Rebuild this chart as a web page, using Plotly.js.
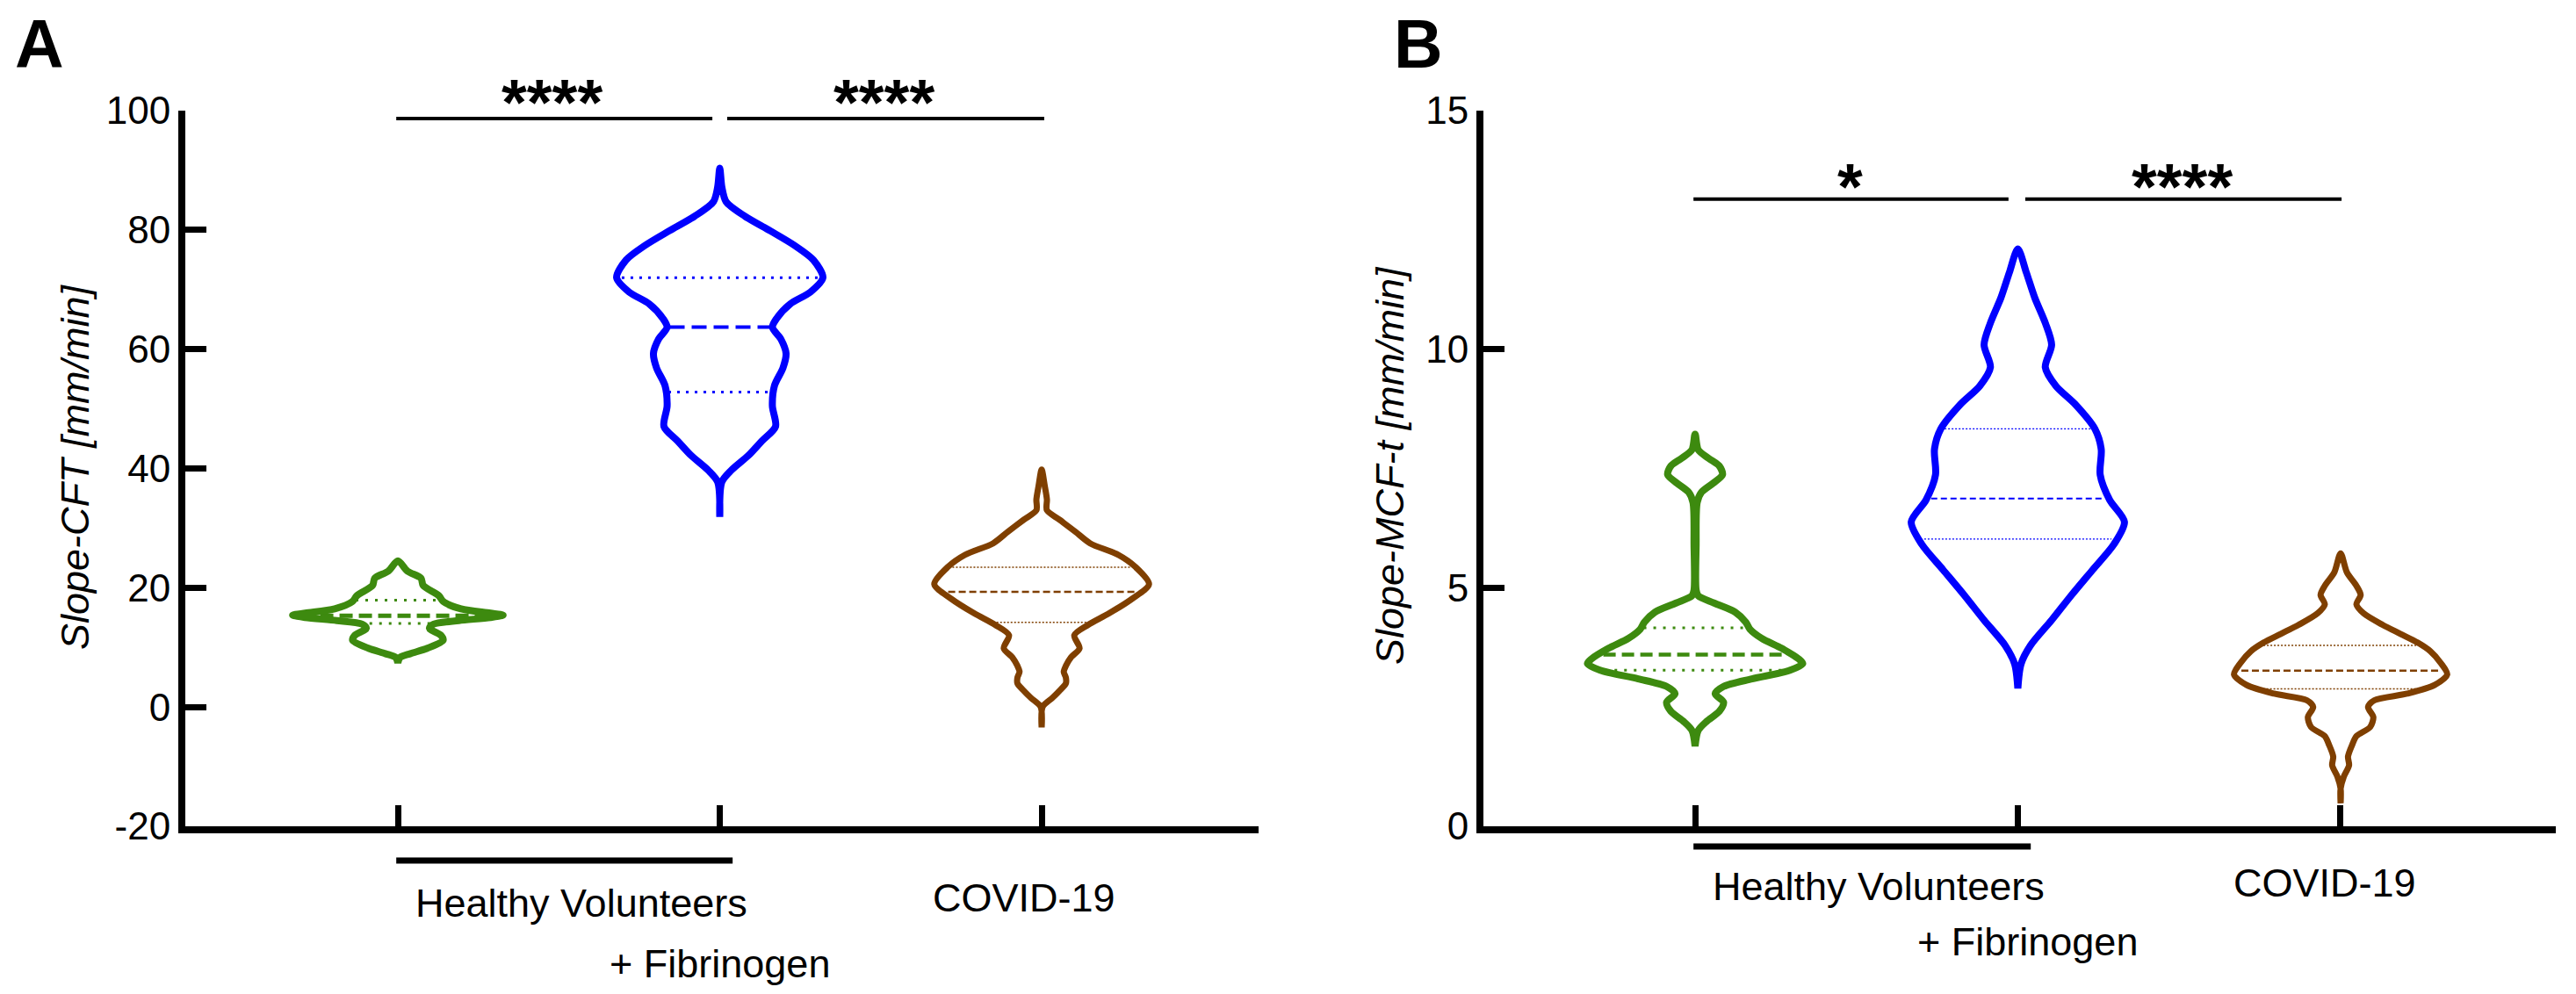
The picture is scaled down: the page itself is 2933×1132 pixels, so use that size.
<!DOCTYPE html>
<html>
<head>
<meta charset="utf-8">
<script src="https://cdn.plot.ly/plotly-3.0.1.min.js"></script>
<style>
html, body { margin: 0; padding: 0; background: #fff; }
#plot { width: 2933px; height: 1132px; }
</style>
</head>
<body>
<div id="plot"></div>
<script>
// x positions of the three groups
var groups = ['Healthy Volunteers', 'Healthy Volunteers + Fibrinogen', 'COVID-19'];
var groupPos = [0, 1, 2];

// Panel A - Slope-CFT [mm/min]
// violin outlines: value levels (top to bottom) and relative density
var cftHealthyY = [24.5, 22.8, 21.6, 20.4, 18.65, 17.7, 16.45, 15.75, 15.4, 15.0, 14.5, 13.9, 13.2, 12.0, 11.2, 9.85, 8.95, 8.3, 7.4];
var cftHealthyD = [0, .09, .22, .24, .39, .43, .60, .88, 1.0, .88, .58, .34, .30, .41, .43, .28, .12, .02, 0];
var cftFibY = [90.36, 87.17, 84.73, 82.28, 79.84, 77.4, 74.95, 72.0, 69.56, 67.6, 65.15, 63.68, 61.72, 59.27, 56.83, 53.89, 50.47, 47.04, 44.6, 42.14, 39.7, 37.74, 31.87];
var cftFibD = [0, .02, .06, .24, .48, .71, .89, .98, .86, .67, .54, .50, .58, .63, .60, .52, .50, .53, .40, .27, .11, .02, 0];
var cftCovidY = [39.8, 37.0, 34.8, 33.0, 31.4, 29.4, 27.46, 25.5, 23.5, 20.6, 18.16, 15.7, 13.76, 12.04, 9.84, 8.37, 6.9, 5.9, 4.95, 3.97, 2.74, 1.5, 0.05, -3.4];
var cftCovidD = [0, .03, .05, .05, .17, .32, .46, .73, .89, 1.02, .86, .64, .44, .31, .36, .28, .23, .21, .23, .23, .17, .10, .01, 0];
// quartiles [Q1, median, Q3]
var cftHealthyQ = [14.0, 15.3, 17.9];
var cftFibQ = [52.8, 63.7, 72.0];
var cftCovidQ = [14.2, 19.3, 23.45];

// Panel B - Slope-MCF-t [mm/min]
var mcfHealthyY = [8.22, 7.89, 7.71, 7.55, 7.37, 7.19, 7.0, 6.79, 5.9, 4.95, 4.83, 4.68, 4.49, 4.28, 4.13, 3.94, 3.73, 3.51, 3.41, 3.27, 3.09, 2.93, 2.78, 2.60, 2.41, 2.2, 2.01, 1.68];
var mcfHealthyD = [0, .03, .13, .23, .26, .17, .06, .02, .01, .01, .03, .18, .38, .48, .52, .63, .82, .98, 1.02, .90, .54, .27, .19, .27, .23, .11, .03, 0];
var mcfFibY = [12.1, 11.61, 11.08, 10.55, 10.09, 9.62, 9.23, 8.83, 8.33, 7.90, 7.37, 6.84, 6.38, 5.91, 5.38, 4.85, 4.32, 3.79, 3.40, 2.89];
var mcfFibD = [0, .08, .16, .26, .32, .26, .36, .55, .73, .79, .78, .87, 1.01, .91, .71, .51, .32, .12, .03, 0];
var mcfCovidY = [5.72, 5.32, 5.04, 4.85, 4.65, 4.46, 4.22, 4.03, 3.85, 3.67, 3.42, 3.18, 2.96, 2.78, 2.64, 2.50, 2.29, 2.08, 1.89, 1.71, 1.46, 1.28, 1.04, 0.79, 0.48];
var mcfCovidD = [0, .06, .15, .19, .15, .22, .40, .57, .73, .85, .95, 1.01, .89, .63, .32, .26, .31, .28, .15, .11, .07, .08, .03, 0, 0];
var mcfHealthyQ = [3.27, 3.6, 4.16];
var mcfFibQ = [6.02, 6.87, 8.33];
var mcfCovidQ = [2.88, 3.26, 3.79];

var yTicksA = [-20, 0, 20, 40, 60, 80, 100];
var yTicksB = [0, 5, 10, 15];
var sigA = ['****', '****'];
var sigB = ['*', '****'];

var GREEN = '#3d8a0f', BLUE = '#0000ff', BROWN = '#7f3f00';
var HALF = 0.327; // violin half width in x units for density 1

var W = 2933, H = 1132;
function px(x) { return x / W; }
function py(y) { return 1 - y / H; }

function outline(pos, ys, ds, color, width, xa, ya) {
    var xs = [], yy = [];
    for (var i = 0; i < ys.length; i++) { xs.push(pos + ds[i] * HALF); yy.push(ys[i]); }
    for (var j = ys.length - 1; j >= 0; j--) { xs.push(pos - ds[j] * HALF); yy.push(ys[j]); }
    return {
        x: xs, y: yy, xaxis: xa, yaxis: ya, mode: 'lines', type: 'scatter',
        line: {color: color, width: width, shape: 'spline', smoothing: 0.8},
        hoverinfo: 'skip', showlegend: false
    };
}

function densityAt(ys, ds, q) {
    for (var i = 0; i < ys.length - 1; i++) {
        if (q <= ys[i] && q >= ys[i + 1]) {
            var t = (ys[i] - q) / (ys[i] - ys[i + 1]);
            return ds[i] + t * (ds[i + 1] - ds[i]);
        }
    }
    return 0;
}

function qline(pos, ys, ds, q, color, width, dash, xa, ya) {
    var h = densityAt(ys, ds, q) * HALF * 0.95;
    return {
        x: [pos - h, pos + h], y: [q, q], xaxis: xa, yaxis: ya, mode: 'lines', type: 'scatter',
        line: {color: color, width: width, dash: dash},
        hoverinfo: 'skip', showlegend: false
    };
}

var data = [];
function violin(pos, ys, ds, qs, color, lw, medW, medDash, qW, qDash, xa, ya) {
    data.push(qline(pos, ys, ds, qs[0], color, qW, qDash, xa, ya));
    data.push(qline(pos, ys, ds, qs[2], color, qW, qDash, xa, ya));
    data.push(qline(pos, ys, ds, qs[1], color, medW, medDash, xa, ya));
    data.push(outline(pos, ys, ds, color, lw, xa, ya));
}

violin(groupPos[0], cftHealthyY, cftHealthyD, cftHealthyQ, GREEN, 8, 5, '15px,7px', 3, '3px,8px', 'x', 'y');
violin(groupPos[1], cftFibY, cftFibD, cftFibQ, BLUE, 8, 4, '17px,8px', 3, '3px,7px', 'x', 'y');
violin(groupPos[2], cftCovidY, cftCovidD, cftCovidQ, BROWN, 7, 2.5, '8px,4px', 1.5, '2px,2px', 'x', 'y');

violin(groupPos[0], mcfHealthyY, mcfHealthyD, mcfHealthyQ, GREEN, 8, 4.5, '14px,7px', 3, '3px,8px', 'x2', 'y2');
violin(groupPos[1], mcfFibY, mcfFibD, mcfFibQ, BLUE, 8, 2, '7px,4px', 1.2, '2px,2px', 'x2', 'y2');
violin(groupPos[2], mcfCovidY, mcfCovidD, mcfCovidQ, BROWN, 7, 2.5, '8px,4px', 1.5, '2px,2px', 'x2', 'y2');

var FONT = 'Arial, "Liberation Sans", Helvetica, sans-serif';

var xBase = {
    showline: true, linewidth: 8, linecolor: '#000', zeroline: false, showgrid: false,
    ticks: 'inside', ticklen: 24, tickwidth: 7, tickcolor: '#000',
    tickmode: 'array', tickvals: groupPos, showticklabels: false, fixedrange: true
};
var yBase = {
    showline: true, linewidth: 8, linecolor: '#000', zeroline: false, showgrid: false,
    ticks: 'inside', ticklen: 24, tickwidth: 7, tickcolor: '#000', tickmode: 'array',
    tickfont: {family: FONT, size: 44, color: '#000'}, fixedrange: true
};

var yDom = [py(941), py(126)];

function label(text, xref, x, y, size) {
    return {text: text, xref: xref, yref: 'paper', x: x, y: py(y), xanchor: 'center', yanchor: 'middle',
            showarrow: false, font: {size: size, color: '#000'}};
}

var title1 = label('<i>Slope-CFT [mm/min]</i>', 'paper', px(85), 532, 45);
title1.textangle = -90;
var title2 = label('<i>Slope-MCF-t [mm/min]</i>', 'paper', px(1582), 530, 45);
title2.textangle = -90;

var layout = {
    width: W, height: H,
    margin: {l: 0, r: 0, t: 0, b: 0},
    paper_bgcolor: '#fff', plot_bgcolor: '#fff',
    showlegend: false,
    font: {family: FONT, color: '#000'},
    xaxis: Object.assign({}, xBase, {domain: [px(211), px(1433)], range: [-0.6603, 2.6739], anchor: 'y'}),
    yaxis: Object.assign({}, yBase, {domain: yDom, range: [-20, 100], tickvals: yTicksA,
        ticktext: yTicksA.map(String), anchor: 'x'}),
    xaxis2: Object.assign({}, xBase, {domain: [px(1689), px(2910)], range: [-0.6558, 2.6667], anchor: 'y2'}),
    yaxis2: Object.assign({}, yBase, {domain: yDom, range: [0, 15], tickvals: yTicksB,
        ticktext: yTicksB.map(String), anchor: 'x2'}),
    shapes: [
        // significance bars
        {type: 'line', xref: 'x', yref: 'y', x0: -0.005, x1: 0.977, y0: 98.68, y1: 98.68, line: {color: '#000', width: 4}},
        {type: 'line', xref: 'x', yref: 'y', x0: 1.023, x1: 2.008, y0: 98.68, y1: 98.68, line: {color: '#000', width: 4}},
        {type: 'line', xref: 'x2', yref: 'y2', x0: -0.005, x1: 0.971, y0: 13.146, y1: 13.146, line: {color: '#000', width: 4}},
        {type: 'line', xref: 'x2', yref: 'y2', x0: 1.023, x1: 2.003, y0: 13.146, y1: 13.146, line: {color: '#000', width: 4}},
        // group bars under the axis
        {type: 'line', xref: 'x', yref: 'paper', x0: -0.005, x1: 1.04, y0: py(980), y1: py(980), line: {color: '#000', width: 7}},
        {type: 'line', xref: 'x2', yref: 'paper', x0: -0.005, x1: 1.04, y0: py(964), y1: py(964), line: {color: '#000', width: 7}}
    ],
    annotations: [
        label('<b>A</b>', 'paper', px(45), 50, 77),
        label('<b>B</b>', 'paper', px(1615), 50, 77),
        title1, title2,

        label('<b>' + sigA[0] + '</b>', 'x', 0.48, 116, 74),
        label('<b>' + sigA[1] + '</b>', 'x', 1.51, 116, 74),
        label('<b>' + sigB[0] + '</b>', 'x2', 0.48, 212, 74),
        label('<b>' + sigB[1] + '</b>', 'x2', 1.51, 212, 74),

        label('Healthy Volunteers', 'x', 0.57, 1028, 45),
        label('+ Fibrinogen', 'x', 1.0, 1097, 45),
        label('COVID-19', 'x', 1.945, 1022, 45),
        label('Healthy Volunteers', 'x2', 0.57, 1009, 45),
        label('+ Fibrinogen', 'x2', 1.03, 1072, 45),
        label('COVID-19', 'x2', 1.95, 1005, 45)
    ]
};

Plotly.newPlot('plot', data, layout, {staticPlot: true, displayModeBar: false});
</script>
</body>
</html>
